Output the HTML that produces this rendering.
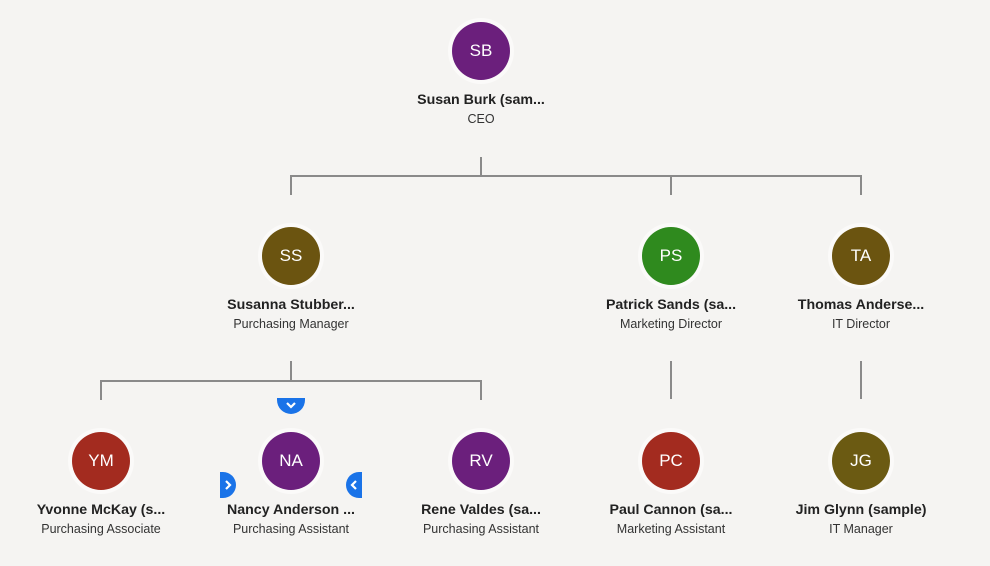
<!DOCTYPE html><html><head><style>
body{margin:0;width:990px;height:566px;background:#f5f4f2;position:relative;overflow:hidden;font-family:"Liberation Sans",sans-serif}
.c{position:absolute;width:58px;height:58px;border-radius:50%;color:#fff;font-size:17px;line-height:58px;text-align:center;box-shadow:0 0 0 4px #fbfaf9}
.n{position:absolute;width:190px;text-align:center;font-size:14.2px;color:#222;font-weight:bold}
.t{position:absolute;width:190px;text-align:center;font-size:12.5px;color:#333}
.l{position:absolute;background:#8a8a8a}
svg{position:absolute}
</style></head><body>
<div class="l" style="left:480px;top:157px;width:2px;height:19px"></div>
<div class="l" style="left:290px;top:175px;width:572px;height:2px"></div>
<div class="l" style="left:290px;top:176px;width:2px;height:19px"></div>
<div class="l" style="left:670px;top:176px;width:2px;height:19px"></div>
<div class="l" style="left:860px;top:176px;width:2px;height:19px"></div>
<div class="l" style="left:290px;top:361px;width:2px;height:20px"></div>
<div class="l" style="left:100px;top:380px;width:382px;height:2px"></div>
<div class="l" style="left:100px;top:381px;width:2px;height:19px"></div>
<div class="l" style="left:480px;top:381px;width:2px;height:19px"></div>
<div class="l" style="left:670px;top:361px;width:2px;height:38px"></div>
<div class="l" style="left:860px;top:361px;width:2px;height:38px"></div>
<div style="position:absolute;left:277px;top:398px;width:28px;height:16px;background:#1a73e8;border-radius:0 0 14px 14px"></div>
<svg style="left:277px;top:398px" width="28" height="16"><path d="M10 5 L14 9 L18 5" stroke="#fff" stroke-width="2.2" fill="none"/></svg>
<div style="position:absolute;left:220px;top:472px;width:16px;height:26px;background:#1a73e8;border-radius:0 13px 13px 0"></div>
<svg style="left:220px;top:472px" width="16" height="26"><path d="M6 9 L10 13 L6 17" stroke="#fff" stroke-width="2.2" fill="none"/></svg>
<div style="position:absolute;left:346px;top:472px;width:16px;height:26px;background:#1a73e8;border-radius:13px 0 0 13px"></div>
<svg style="left:346px;top:472px" width="16" height="26"><path d="M10 9 L6 13 L10 17" stroke="#fff" stroke-width="2.2" fill="none"/></svg>

<div class="c" style="left:452px;top:22px;background:#6b1f7c">SB</div>
<div class="n" style="left:386px;top:92px">Susan Burk (sam...</div><div class="t" style="left:386px;top:112px">CEO</div>

<div class="c" style="left:262px;top:227px;background:#6b5410">SS</div>
<div class="n" style="left:196px;top:297px">Susanna Stubber...</div><div class="t" style="left:196px;top:317px">Purchasing Manager</div>
<div class="c" style="left:642px;top:227px;background:#2f8a1e">PS</div>
<div class="n" style="left:576px;top:297px">Patrick Sands (sa...</div><div class="t" style="left:576px;top:317px">Marketing Director</div>
<div class="c" style="left:832px;top:227px;background:#6b5410">TA</div>
<div class="n" style="left:766px;top:297px">Thomas Anderse...</div><div class="t" style="left:766px;top:317px">IT Director</div>

<div class="c" style="left:72px;top:432px;background:#a32b1f">YM</div>
<div class="n" style="left:6px;top:502px">Yvonne McKay (s...</div><div class="t" style="left:6px;top:522px">Purchasing Associate</div>
<div class="c" style="left:262px;top:432px;background:#6b1f7c">NA</div>
<div class="n" style="left:196px;top:502px">Nancy Anderson ...</div><div class="t" style="left:196px;top:522px">Purchasing Assistant</div>
<div class="c" style="left:452px;top:432px;background:#6b1f7c">RV</div>
<div class="n" style="left:386px;top:502px">Rene Valdes (sa...</div><div class="t" style="left:386px;top:522px">Purchasing Assistant</div>
<div class="c" style="left:642px;top:432px;background:#a32b1f">PC</div>
<div class="n" style="left:576px;top:502px">Paul Cannon (sa...</div><div class="t" style="left:576px;top:522px">Marketing Assistant</div>
<div class="c" style="left:832px;top:432px;background:#6b5a12">JG</div>
<div class="n" style="left:766px;top:502px">Jim Glynn (sample)</div><div class="t" style="left:766px;top:522px">IT Manager</div>
</body></html>
